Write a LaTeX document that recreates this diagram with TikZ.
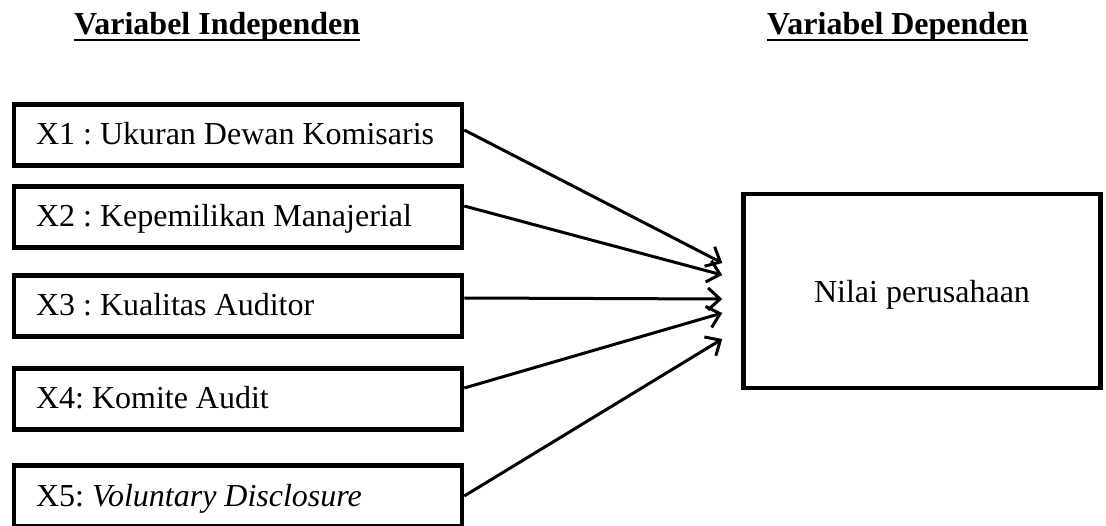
\documentclass[tikz,border=0pt]{standalone}
\usepackage{fontspec}
\setmainfont{Liberation Serif}
\usetikzlibrary{arrows.meta}
\newcommand{\vartext}[1]{\makebox[404pt][l]{#1}}

\begin{document}
\begin{tikzpicture}[x=1pt,y=-1pt,>={Straight Barb[length=12pt,width=22pt]},
    font=\fontsize{32}{38}\selectfont\frenchspacing,
    var/.style={draw,line width=4.5pt,minimum width=448pt,minimum height=61pt,
        inner xsep=22pt,text height=24pt,text depth=4pt},
    head/.style={inner sep=0pt,font=\fontsize{32}{38}\selectfont\bfseries}]
    \useasboundingbox (0,0) rectangle (1106,526);
    \node[head,anchor=base west] (hind) at (74,35) {Variabel Independen};
    \node[head,anchor=base west] (hdep) at (767,35) {Variabel Dependen};
    \draw[line width=2pt] ([yshift=-5pt]hind.base west) -- ([yshift=-5pt]hind.base east);
    \draw[line width=2pt] ([yshift=-5pt]hdep.base west) -- ([yshift=-5pt]hdep.base east);

    \node[var] (x1) at (238,135) {\vartext{X1 : Ukuran Dewan Komisaris}};
    \node[var] (x2) [below of=x1,node distance=82pt] {\vartext{X2 : Kepemilikan Manajerial}};
    \node[var] (x3) [below of=x2,node distance=89pt] {\vartext{X3 : Kualitas Auditor}};
    \node[var] (x4) [below of=x3,node distance=93pt] {\vartext{X4: Komite Audit}};
    \node[var] (x5) [below of=x4,node distance=97pt] {\vartext{X5: \textit{Voluntary Disclosure}}};
    \node[draw,line width=4.5pt,minimum width=357pt,minimum height=194pt,
        text height=24pt,text depth=0pt] (nilai) at (922,291) {Nilai perusahaan};

    \path[->,line width=3pt] ([yshift=5pt]x1.east) edge ([xshift=-19pt,yshift=28pt]nilai.west);
    \path[->,line width=3pt] ([yshift=11pt]x2.east) edge ([xshift=-19pt,yshift=16pt]nilai.west);
    \path[->,line width=3pt] ([yshift=8pt]x3.east) edge ([xshift=-19pt,yshift=-8pt]nilai.west);
    \path[->,line width=3pt] ([yshift=11pt]x4.east) edge ([xshift=-19pt,yshift=-22pt]nilai.west);
    \path[->,line width=3pt] (x5.east) edge ([xshift=-19pt,yshift=-48pt]nilai.west);
\end{tikzpicture}
\end{document}
